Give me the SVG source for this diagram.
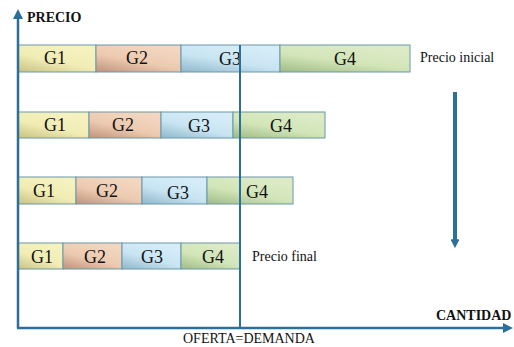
<svg xmlns="http://www.w3.org/2000/svg" width="514" height="347" viewBox="0 0 514 347">
  <style>
    text { font-family: 'Liberation Serif', 'DejaVu Serif', 'Times New Roman', serif; fill: #111; }
    .seg { stroke: #6a98a8; stroke-width: 1; }
    .g { font-size: 18px; text-anchor: middle; }
    .lbl { font-size: 14px; }
    .axis-lbl { font-size: 14px; font-weight: bold; }
    .axis { stroke: #2c6f98; stroke-width: 2.5; fill: none; }
  </style>
  <defs>
    <linearGradient id="gr1" x1="0" y1="1" x2="0.6" y2="0">
      <stop offset="0" stop-color="#c9c283"/>
      <stop offset="0.5" stop-color="#f0ecb4"/>
      <stop offset="1" stop-color="#f5f2c0"/>
    </linearGradient>
    <linearGradient id="gr2" x1="0" y1="1" x2="0.6" y2="0">
      <stop offset="0" stop-color="#bf927c"/>
      <stop offset="0.5" stop-color="#eccab0"/>
      <stop offset="1" stop-color="#f3d6c0"/>
    </linearGradient>
    <linearGradient id="gr3" x1="0" y1="1" x2="0.6" y2="0">
      <stop offset="0" stop-color="#8fb7cb"/>
      <stop offset="0.5" stop-color="#c8e4f2"/>
      <stop offset="1" stop-color="#d6edf8"/>
    </linearGradient>
    <linearGradient id="gr4" x1="0" y1="1" x2="0.6" y2="0">
      <stop offset="0" stop-color="#9fbb86"/>
      <stop offset="0.5" stop-color="#d2e5b8"/>
      <stop offset="1" stop-color="#dcebc6"/>
    </linearGradient>
    <marker id="tip" viewBox="0 0 10 10" refX="5" refY="5" markerWidth="4" markerHeight="4" orient="auto">
      <path d="M0,0 L10,5 L0,10 Z" fill="#2c6f98"/>
    </marker>
    <marker id="tip-small" viewBox="0 0 10 10" refX="3" refY="5" markerWidth="2.2" markerHeight="2.2" orient="auto">
      <path d="M0,0 L10,5 L0,10 Z" fill="#2c6f98"/>
    </marker>
  </defs>

  <!-- row 1: initial price -->
  <g id="row1">
    <rect class="seg" x="18" y="45" width="78" height="27" fill="url(#gr1)"/>
    <rect class="seg" x="96" y="45" width="85" height="27" fill="url(#gr2)"/>
    <rect class="seg" x="181" y="45" width="99" height="27" fill="url(#gr3)"/>
    <rect class="seg" x="280" y="45" width="130" height="27" fill="url(#gr4)"/>
    <text class="g" x="55" y="64">G1</text>
    <text class="g" x="137" y="64">G2</text>
    <text class="g" x="230" y="65">G3</text>
    <text class="g" x="345" y="65">G4</text>
    <text class="lbl" x="420" y="62">Precio inicial</text>
  </g>

  <!-- row 2 -->
  <g id="row2">
    <rect class="seg" x="18" y="112" width="71" height="26" fill="url(#gr1)"/>
    <rect class="seg" x="89" y="112" width="72" height="26" fill="url(#gr2)"/>
    <rect class="seg" x="161" y="112" width="72" height="26" fill="url(#gr3)"/>
    <rect class="seg" x="233" y="112" width="92" height="26" fill="url(#gr4)"/>
    <text class="g" x="55" y="131">G1</text>
    <text class="g" x="123" y="131">G2</text>
    <text class="g" x="199" y="132">G3</text>
    <text class="g" x="281" y="132">G4</text>
  </g>

  <!-- row 3 -->
  <g id="row3">
    <rect class="seg" x="18" y="177" width="58" height="27" fill="url(#gr1)"/>
    <rect class="seg" x="76" y="177" width="66" height="27" fill="url(#gr2)"/>
    <rect class="seg" x="142" y="177" width="65" height="27" fill="url(#gr3)"/>
    <rect class="seg" x="207" y="177" width="86" height="27" fill="url(#gr4)"/>
    <text class="g" x="44" y="197">G1</text>
    <text class="g" x="107" y="197">G2</text>
    <text class="g" x="178" y="199">G3</text>
    <text class="g" x="257" y="198">G4</text>
  </g>

  <!-- row 4: final price -->
  <g id="row4">
    <rect class="seg" x="18" y="243" width="45" height="26" fill="url(#gr1)"/>
    <rect class="seg" x="63" y="243" width="59" height="26" fill="url(#gr2)"/>
    <rect class="seg" x="122" y="243" width="59" height="26" fill="url(#gr3)"/>
    <rect class="seg" x="181" y="243" width="59" height="26" fill="url(#gr4)"/>
    <text class="g" x="42" y="263">G1</text>
    <text class="g" x="95" y="263">G2</text>
    <text class="g" x="152" y="263">G3</text>
    <text class="g" x="213" y="263">G4</text>
    <text class="lbl" x="252" y="261">Precio final</text>
  </g>

  <!-- axes, equilibrium line and trend arrow -->
  <g id="connectors">
    <line class="axis" x1="18" y1="328" x2="18" y2="14" marker-end="url(#tip)"/>
    <line class="axis" x1="17" y1="328" x2="508" y2="328" marker-end="url(#tip)"/>
    <line x1="240" y1="45" x2="240" y2="328" stroke="#2c6f98" stroke-width="2"/>
    <line x1="455" y1="92" x2="455" y2="242" stroke="#2c6f98" stroke-width="4" marker-end="url(#tip-small)"/>
  </g>

  <g id="labels">
    <text class="axis-lbl" x="27" y="22">PRECIO</text>
    <text class="axis-lbl" x="436" y="320">CANTIDAD</text>
    <text class="lbl" x="183" y="343">OFERTA=DEMANDA</text>
  </g>
</svg>
